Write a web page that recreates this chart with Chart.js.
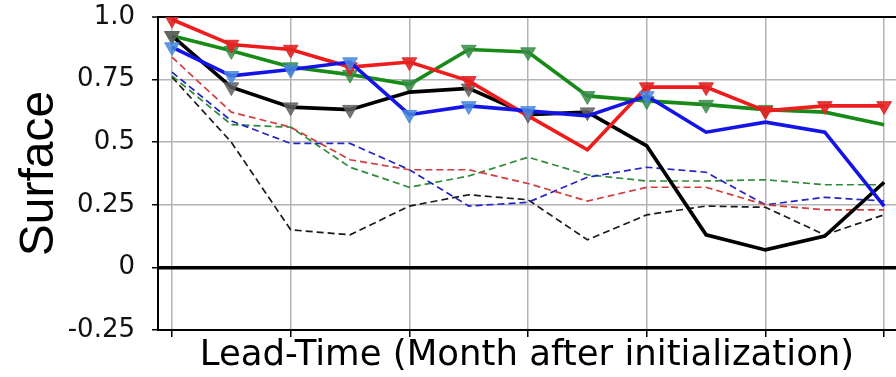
<!DOCTYPE html>
<html>
<head>
<meta charset="utf-8">
<script src="https://cdn.jsdelivr.net/npm/chart.js@4/dist/chart.umd.min.js"></script>
<style>
  html, body { margin: 0; padding: 0; background: #fff; }
  #wrap { width: 896px; height: 377px; }
</style>
</head>
<body>
<div id="wrap"><canvas id="c" width="896" height="377"></canvas></div>
<script>
// Lead time in months after initialization
const months = [0, 1, 2, 3, 4, 5, 6, 7, 8, 9, 10, 11, 12];

// Solid lines (with triangle markers)
const redSolid   = [0.99, 0.89, 0.87, 0.80, 0.82, 0.745, 0.605, 0.47, 0.72, 0.72, 0.625, 0.645, 0.645];
const greenSolid = [0.925, 0.865, 0.80, 0.77, 0.73, 0.87, 0.86, 0.685, 0.665, 0.65, 0.63, 0.62, 0.57];
const blueSolid  = [0.88, 0.765, 0.79, 0.82, 0.61, 0.645, 0.625, 0.605, 0.685, 0.54, 0.58, 0.54, 0.245];
const blackSolid = [0.925, 0.72, 0.64, 0.63, 0.70, 0.715, 0.61, 0.62, 0.485, 0.13, 0.07, 0.125, 0.34];

// Which points carry a marker (1 = shown)
const redMarks   = [1, 1, 1, 1, 1, 1, 0, 0, 1, 1, 1, 1, 1];
const greenMarks = [1, 1, 1, 1, 1, 1, 1, 1, 1, 1, 1, 0, 0];
const blueMarks  = [1, 1, 1, 1, 1, 1, 1, 0, 1, 0, 0, 0, 0];
const blackMarks = [1, 1, 1, 1, 0, 1, 1, 1, 0, 0, 0, 0, 0];

// Dashed lines
const redDashed   = [0.84, 0.62, 0.56, 0.43, 0.39, 0.39, 0.335, 0.265, 0.32, 0.32, 0.25, 0.23, 0.23];
const greenDashed = [0.765, 0.57, 0.56, 0.40, 0.32, 0.365, 0.44, 0.37, 0.345, 0.345, 0.35, 0.33, 0.33];
const blueDashed  = [0.78, 0.585, 0.495, 0.495, 0.39, 0.245, 0.26, 0.36, 0.40, 0.38, 0.25, 0.28, 0.265];
const blackDashed = [0.76, 0.50, 0.15, 0.13, 0.245, 0.29, 0.27, 0.11, 0.21, 0.245, 0.24, 0.13, 0.21];

// Axis ticks
const xGridMonths = [0, 2, 4, 6, 8, 10, 12];
const yTickValues = [-0.25, 0, 0.25, 0.5, 0.75, 1.0];
const yTickLabels = ['-0.25', '0', '0.25', '0.5', '0.75', '1.0'];

const xyOf = vals => months.map((m, i) => ({ x: m, y: vals[i] }));

function solid(vals, marks, color, markColor) {
  return {
    data: xyOf(vals),
    borderColor: color,
    borderWidth: 3.6,
    pointStyle: 'triangle',
    rotation: 180,
    pointRadius: marks.map(k => (k ? 8.5 : 0)),
    pointBackgroundColor: markColor,
    pointBorderColor: markColor,
    pointBorderWidth: 1,
    tension: 0,
    fill: false
  };
}

function dashed(vals, color) {
  return {
    data: xyOf(vals),
    borderColor: color,
    borderWidth: 1.7,
    borderDash: [7, 4],
    pointRadius: 0,
    tension: 0,
    fill: false
  };
}

new Chart(document.getElementById('c'), {
  type: 'line',
  data: {
    datasets: [
      solid(blueSolid, blueMarks, '#1414e6', 'rgba(70,135,220,0.85)'),
      solid(redSolid, redMarks, '#ee1c1c', 'rgba(225,35,35,0.9)'),
      solid(blackSolid, blackMarks, '#000000', 'rgba(95,95,95,0.85)'),
      solid(greenSolid, greenMarks, '#178a17', 'rgba(55,140,70,0.85)'),
      dashed(redDashed, '#d23c3c'),
      dashed(blueDashed, '#2424c8'),
      dashed(greenDashed, '#2f8a3a'),
      dashed(blackDashed, '#1a1a1a')
    ]
  },
  options: {
    responsive: false,
    animation: false,
    devicePixelRatio: 1,
    layout: { padding: { top: 17, right: 0, bottom: 0, left: 0 }, autoPadding: false },
    plugins: { legend: { display: false }, tooltip: { enabled: false } },
    scales: {
      x: {
        type: 'linear',
        min: -0.236,
        max: 12.2,
        afterBuildTicks: s => { s.ticks = xGridMonths.map(v => ({ value: v })); },
        afterFit: s => { s.height = 47; s.paddingLeft = 0; s.paddingRight = 0; },
        ticks: { callback: () => '', font: { size: 1 }, padding: 0 },
        grid: { color: '#b4b4b4', lineWidth: 1.5, tickColor: '#000', tickLength: 7, tickWidth: 1.5 },
        border: { display: true, color: '#000', width: 2 },
        title: {
          display: true,
          text: 'Lead-Time (Month after initialization)',
          color: '#000',
          font: { family: 'DejaVu Sans', size: 35.5 },
          padding: { top: 0, bottom: 0 }
        }
      },
      y: {
        min: -0.25,
        max: 1.0,
        afterBuildTicks: s => { s.ticks = yTickValues.map(v => ({ value: v })); },
        afterFit: s => { s.width = 158; s.paddingTop = 0; s.paddingBottom = 0; },
        ticks: {
          callback: v => yTickLabels[yTickValues.indexOf(v)],
          color: '#111',
          font: { family: 'DejaVu Sans', size: 26 },
          padding: 17
        },
        grid: {
          color: c => (c.tick.value === 0 || c.tick.value === 1 ? '#000' : '#b4b4b4'),
          lineWidth: c => (c.tick.value === 0 ? 3.5 : c.tick.value === 1 ? 2 : 1.5),
          tickColor: '#000',
          tickLength: 6,
          tickWidth: 1.5
        },
        border: { display: true, color: '#000', width: 2 },
        title: {
          display: true,
          text: 'Surface',
          color: '#000',
          font: { family: 'Liberation Sans', size: 48 },
          padding: { top: 11, bottom: 0 }
        }
      }
    }
  }
});
</script>
</body>
</html>
